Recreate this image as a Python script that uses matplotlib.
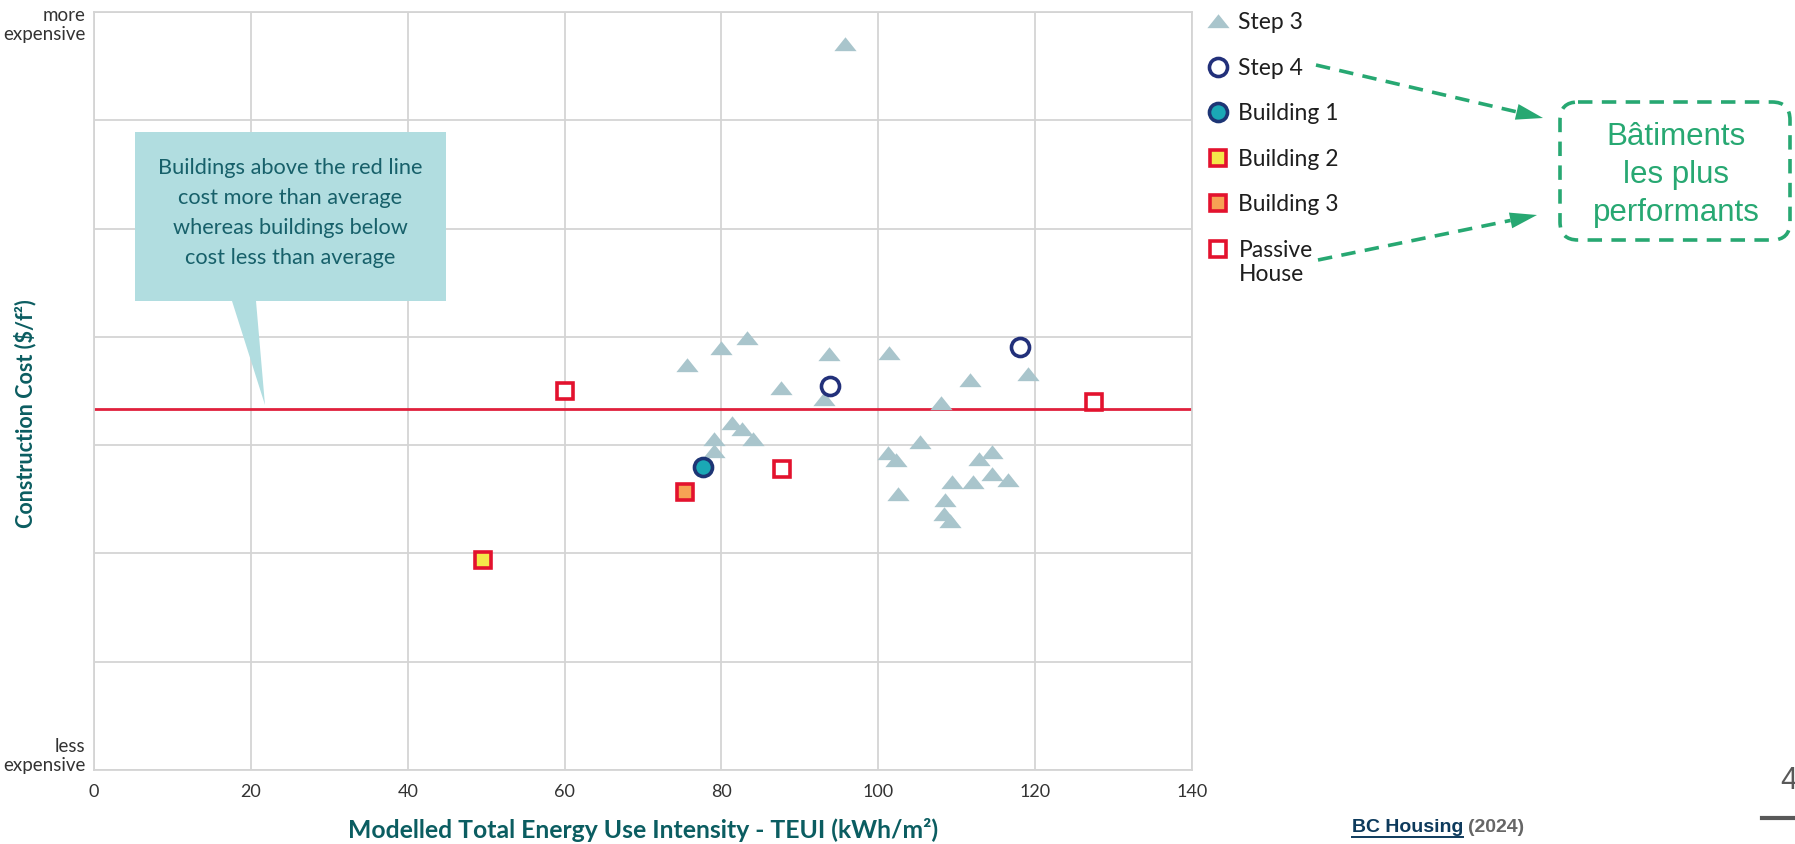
import matplotlib
matplotlib.use("Agg")
import matplotlib.pyplot as plt
from matplotlib.patches import Polygon, FancyBboxPatch
import numpy as np

W, H = 1795, 844

# données (y : unités de grille, 0 = moins cher, 7 = plus cher)
step3_x = [95.7, 75.6, 80.0, 83.3, 93.7, 101.4, 111.7, 119.1, 87.6, 93.1, 108.0,
           81.3, 82.6, 84.0, 79.0, 79.1, 105.3, 101.3, 102.3, 114.5, 112.9, 114.5,
           116.5, 109.4, 112.1, 102.5, 108.5, 108.4, 109.1]
step3_y = [6.70, 3.74, 3.90, 3.99, 3.84, 3.85, 3.60, 3.66, 3.53, 3.43, 3.39,
           3.20, 3.15, 3.06, 3.06, 2.95, 3.03, 2.93, 2.86, 2.94, 2.87, 2.73,
           2.68, 2.66, 2.66, 2.55, 2.49, 2.36, 2.30]
step4_x = [93.8, 118.1]
step4_y = [3.55, 3.91]
b1_x, b1_y = [77.6], [2.80]
b2_x, b2_y = [49.6], [1.94]
b3_x, b3_y = [75.3], [2.57]
ph_x = [60.0, 87.7, 127.5]
ph_y = [3.50, 2.78, 3.40]
avg_cost = 3.33

x_ticks = [0, 20, 40, 60, 80, 100, 120, 140]
y_grid = [0, 1, 2, 3, 4, 5, 6, 7]

teal = "#0b5d61"
green = "#27a872"
red = "#e3122e"

plt.rcParams["font.family"] = ["Lato", "DejaVu Sans"]

fig = plt.figure(figsize=(W / 100, H / 100), dpi=100)
ax = fig.add_axes([94 / W, 1 - 770 / H, (1192 - 94) / W, (770 - 12) / H])
ax.set_xlim(0, 140)
ax.set_ylim(0, 7)
ax.set_xticks(x_ticks)
ax.set_yticks(y_grid)
ax.set_yticklabels([])
ax.tick_params(length=0, labelsize=13, labelcolor="#333333", pad=10)
ax.grid(True, color="#d4d4d4", lw=1.3)
ax.set_axisbelow(True)
for s in ax.spines.values():
    s.set_color("#d4d4d4")
    s.set_linewidth(1.3)

ax.axhline(avg_cost, color="#e0203c", lw=2, zorder=2)

tri = [(-1, -0.6), (1, -0.6), (0, 0.65), (-1, -0.6)]
ax.plot(step3_x, step3_y, ls="none", marker=tri, ms=16, color="#a9c5cc",
        mew=0, label="Step 3", zorder=3)
ax.plot(step4_x, step4_y, ls="none", marker="o", ms=13, mfc="white",
        mec="#22307a", mew=2.6, label="Step 4", zorder=4)
ax.plot(b1_x, b1_y, ls="none", marker="o", ms=13, mfc="#1aa8b5",
        mec="#1d3575", mew=2.6, label="Building 1", zorder=4)
ax.plot(b2_x, b2_y, ls="none", marker="s", ms=12, mfc="#f4e84a",
        mec=red, mew=2.6, label="Building 2", zorder=4)
ax.plot(b3_x, b3_y, ls="none", marker="s", ms=12, mfc="#f7a254",
        mec=red, mew=2.6, label="Building 3", zorder=4)
# "Passive House" : la 2e ligne est ajoutée sous l'entrée de légende
ax.plot(ph_x, ph_y, ls="none", marker="s", ms=12, mfc="white",
        mec=red, mew=2.6, label="Passive", zorder=4)

leg = ax.legend(loc="upper left", bbox_to_anchor=(1207 / W, 1 - 12 / H),
                bbox_transform=fig.transFigure, frameon=False, fontsize=16.5,
                handlelength=1.0, handletextpad=0.37, labelspacing=1.07,
                borderpad=0, borderaxespad=0, markerscale=1.0)
for t in leg.get_texts():
    t.set_color("#1e1e1e")

ax.text(-0.008, 6.88, "more\nexpensive", transform=ax.get_yaxis_transform(),
        ha="right", va="center", fontsize=13.5, color="#333333", linespacing=1.15)
ax.text(-0.008, 0.13, "less\nexpensive", transform=ax.get_yaxis_transform(),
        ha="right", va="center", fontsize=13.5, color="#333333", linespacing=1.15)

fig.text(25 / W, 1 - 414 / H, "Construction Cost ($/f²)", rotation=90,
         ha="center", va="center", fontsize=15.5, fontweight="bold", color=teal)
fig.text(643 / W, 1 - 830 / H, "Modelled Total Energy Use Intensity - TEUI (kWh/m²)",
         ha="center", va="center", fontsize=17.8, fontweight="bold", color=teal)

# calque en pixels pour les annotations
ov = fig.add_axes([0, 0, 1, 1], zorder=5)
ov.set_xlim(0, W)
ov.set_ylim(H, 0)
ov.axis("off")
ov.patch.set_alpha(0)

bubble = [(135, 132), (446, 132), (446, 301), (256, 301), (265, 405),
          (232, 301), (135, 301)]
ov.add_patch(Polygon(bubble, closed=True, fc="#b1dde0", ec="none"))
ov.text(290, 213, "Buildings above the red line\ncost more than average\n"
        "whereas buildings below\ncost less than average",
        ha="center", va="center", fontsize=15.7, color="#17606a", linespacing=1.64)

ov.add_patch(FancyBboxPatch((1560, 102), 230, 138,
                            boxstyle="round,pad=0,rounding_size=18",
                            fc="none", ec=green, lw=2.6, ls=(0, (4, 2.6))))
ov.text(1676, 175, "Bâtiments\nles plus\nperformants", ha="center", va="center",
        fontsize=22.5, color=green, linespacing=1.33,
        family=["Liberation Sans", "DejaVu Sans"])


def dashed_arrow(x0, y0, x1, y1):
    d = np.array([x1 - x0, y1 - y0], dtype=float)
    L = np.hypot(*d)
    u = d / L
    n = np.array([-u[1], u[0]])
    hl, hw = 27, 8
    base = np.array([x1, y1]) - u * hl
    ov.plot([x0, base[0]], [y0, base[1]], color=green, lw=2.6,
            ls=(0, (4, 2.6)), solid_capstyle="butt")
    head = [(x1, y1), tuple(base + n * hw), tuple(base - n * hw)]
    ov.add_patch(Polygon(head, closed=True, fc=green, ec="none"))


dashed_arrow(1316, 65, 1543, 118)
dashed_arrow(1318, 260, 1537, 215)

# source et numéro de page
src_font = ["Liberation Sans Narrow", "Liberation Sans"]
src = fig.text(1352 / W, 1 - 827 / H, "BC Housing", ha="left", va="center",
               fontsize=14, color="#0d3a5c", fontweight="bold", family=src_font)
fig.canvas.draw()

# 2e ligne de la dernière entrée de légende
pb = leg.get_texts()[-1].get_window_extent()
fig.text(pb.x0 / W, (pb.y0 - 3) / H, "House", ha="left", va="top",
         fontsize=16.5, color="#1e1e1e")

bb = src.get_window_extent()
ov.plot([bb.x0, bb.x1], [H - bb.y0 + 1, H - bb.y0 + 1], color="#0d3a5c", lw=1.4)
fig.text((bb.x1 + 5) / W, 1 - 827 / H, "(2024)", ha="left", va="center",
         fontsize=14, color="#666666", fontweight="bold", family=src_font)

fig.text(1789 / W, 1 - 781 / H, "4", ha="center", va="center", fontsize=22,
         color="#595959", family=["Liberation Sans", "DejaVu Sans"])
ov.plot([1762, W], [818, 818], color="#595959", lw=3)

fig.savefig("out.png", dpi=100)
